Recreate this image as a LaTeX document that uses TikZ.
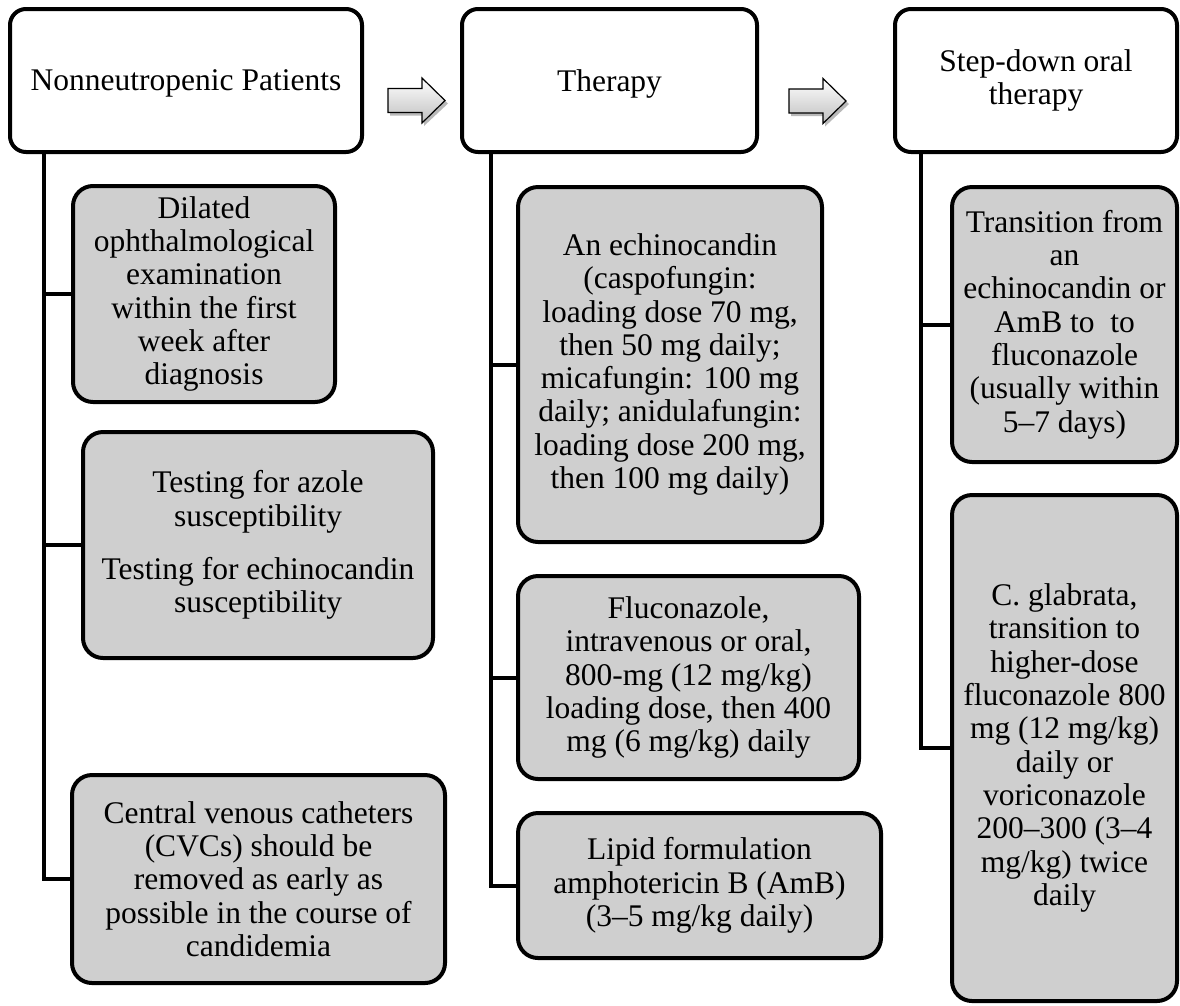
\documentclass[tikz,border=0pt]{standalone}
\usepackage{fontspec}
\setmainfont{Liberation Serif}
\definecolor{boxgray}{RGB}{207,207,207}
\tikzset{
  headbox/.style={draw=black, line width=4pt, rounded corners=16pt, fill=white,
    inner sep=0pt, align=center, font=\fontsize{31.5pt}{33pt}\selectfont},
  subbox/.style={draw=black, line width=4pt, rounded corners=20pt, fill=boxgray,
    inner sep=0pt, align=center, font=\fontsize{31.5pt}{33.3pt}\selectfont},
  conn/.style={draw=black, line width=4pt},
  barrow/.style={draw=black, line width=1.2pt, top color=white, bottom color=gray!50, line join=miter},
  bshadow/.style={fill=gray!55, draw=none},
  blockarrow/.pic={
    \path[bshadow] (2,-9) -- (36,-9) -- (36,-19.5) -- (60,3) -- (36,25.5) -- (36,15) -- (2,15) -- cycle;
    \path[barrow] (0,-12) -- (34,-12) -- (34,-22.5) -- (57,0) -- (34,22.5) -- (34,12) -- (0,12) -- cycle;
  }
}
\begin{document}
\begin{tikzpicture}[x=1pt, y=-1pt]
\useasboundingbox (0,0) rectangle (1180,1005);

% header boxes
\node[headbox, minimum width=352, minimum height=143, text depth=0pt] (H1) at (186,80.5) {Nonneutropenic Patients};
\node[headbox, minimum width=295, minimum height=143, text depth=0pt] (H2) at (609.5,80.5) {Therapy};
\node[headbox, minimum width=282, minimum height=143] (H3) at (1036,80.5) {Step-down oral\\therapy};

% block arrows
\pic (ar1) at (388,100.5) {blockarrow};
\pic (ar2) at (789,101) {blockarrow};

% column 1
\node[subbox, minimum width=262, minimum height=216] (A) at (204,294)
  {Dilated\\ophthalmological\\examination\\within the first\\week after\\diagnosis};
\node[subbox, minimum width=350, minimum height=226] (B) at (258,545)
  {Testing for azole\\susceptibility\\[20pt]Testing for echinocandin\\susceptibility};
\node[subbox, minimum width=373, minimum height=208] (C) at (258.5,879)
  {Central venous catheters\\(CVCs) should be\\removed as early as\\possible in the course of\\candidemia};

% column 2
\node[subbox, minimum width=304, minimum height=355] (D) at (670,364.5)
  {An echinocandin\\(caspofungin:\\loading dose 70 mg,\\then 50 mg daily;\\micafungin: 100 mg\\daily; anidulafungin:\\loading dose 200 mg,\\then 100 mg daily)};
\node[subbox, minimum width=341, minimum height=203] (E) at (688.5,677.5)
  {Fluconazole,\\intravenous or oral,\\800-mg (12 mg/kg)\\loading dose, then 400\\mg (6 mg/kg) daily};
\node[subbox, minimum width=363, minimum height=145] (F) at (699.5,885.5)
  {Lipid formulation\\amphotericin B (AmB)\\(3–5 mg/kg daily)};

% column 3
\node[subbox, minimum width=225, minimum height=275] (G) at (1064.5,324.5)
  {Transition from\\an\\echinocandin or\\AmB to\ \ to\\fluconazole\\(usually within\\5–7 days)};
\node[subbox, minimum width=225, minimum height=506] (Hh) at (1064.5,748)
  {C. glabrata,\\transition to\\higher-dose\\fluconazole 800\\mg (12 mg/kg)\\daily or\\voriconazole\\200–300 (3–4\\mg/kg) twice\\daily};

% connectors
\draw[conn] ([xshift=36pt]H1.south west) |- (A.west);
\draw[conn] ([xshift=36pt]H1.south west) |- (B.west);
\draw[conn] ([xshift=36pt]H1.south west) |- (C.west);
\draw[conn] ([xshift=31pt]H2.south west) |- (D.west);
\draw[conn] ([xshift=31pt]H2.south west) |- (E.west);
\draw[conn] ([xshift=31pt]H2.south west) |- (F.west);
\draw[conn] ([xshift=28pt]H3.south west) |- (G.west);
\draw[conn] ([xshift=28pt]H3.south west) |- (Hh.west);
\end{tikzpicture}
\end{document}
